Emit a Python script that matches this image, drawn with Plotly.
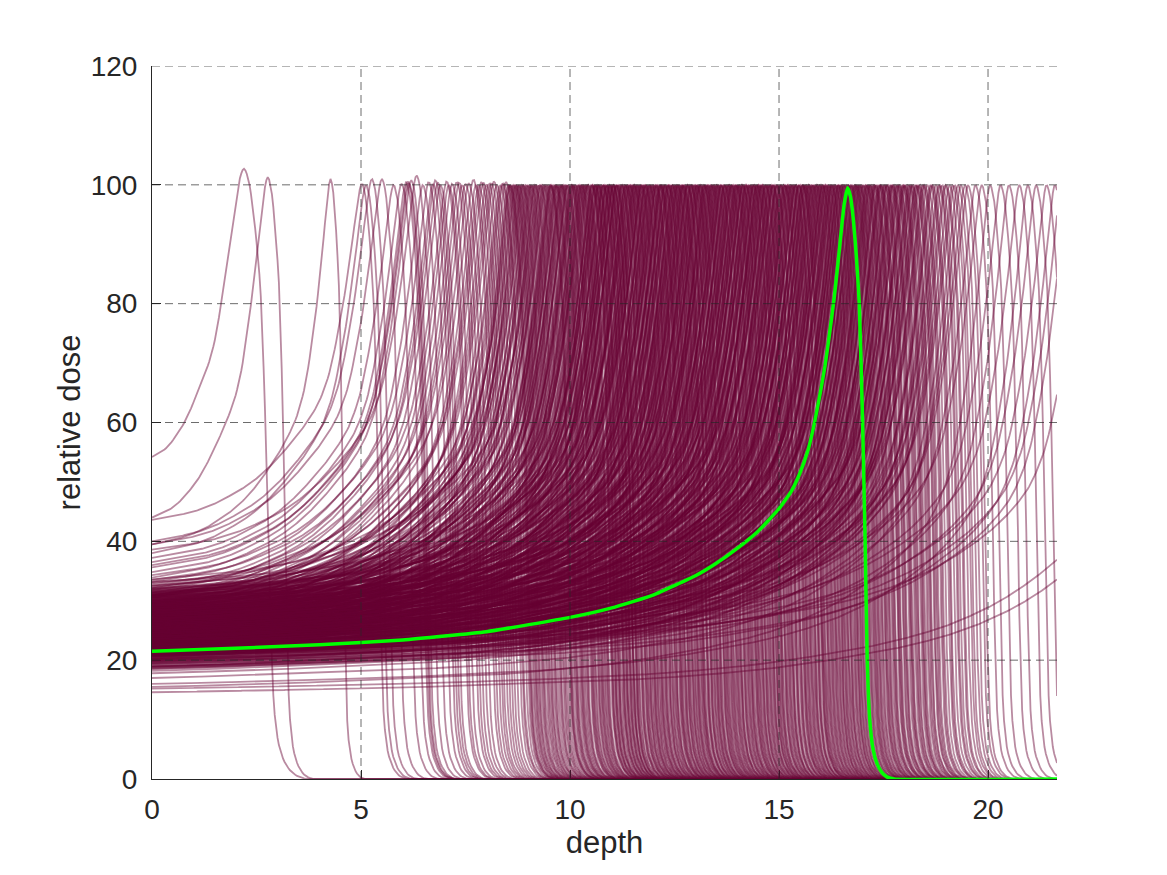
import numpy as np
import plotly.graph_objects as go

# ---------------- data ----------------
# highlighted (green) depth-dose curve
green_depth = [0, 2, 4, 6, 8, 10, 11, 12, 13, 13.5, 14, 14.5, 15.0, 15.3, 15.5, 15.7,
               15.85, 16.0, 16.1, 16.2, 16.32, 16.42, 16.5, 16.56, 16.64, 16.71, 16.78,
               16.85, 16.92, 17.0, 17.06, 17.11, 17.17, 17.25, 17.35, 17.45, 17.57, 17.75, 21.65]
green_dose = [21.5, 22.0, 22.6, 23.4, 24.8, 27.2, 28.8, 31.0, 34.2, 36.3, 38.8, 41.7, 45.5,
              48.5, 51.5, 55.5, 60.0, 65.5, 69.5, 74.5, 81.0, 87.5, 93.0, 96.8, 99.5, 98.0,
              94.0, 88.0, 80.0, 60.0, 40.0, 20.0, 10.0, 5.0, 2.5, 1.2, 0.4, 0.0, 0.0]

# sparse, short-range curves (peak depth, entrance dose, peak dose, peak width factor)
spike_range = [2.20, 2.77, 4.27, 5.02, 5.12, 5.26, 5.50, 5.78, 5.97, 6.08, 6.12, 6.15, 6.20,
               6.33, 6.48, 6.62, 6.72, 6.78, 6.84, 6.90, 7.05, 7.18, 7.29, 7.42, 7.58, 7.69,
               7.82, 7.93, 8.06, 8.18, 8.33, 8.41, 8.47,
               7.10, 7.35, 7.50, 7.75, 7.88, 8.00, 8.12, 8.25, 8.38]
spike_entrance = [54.2, 44.0, 39.5, 43.6, 38.0, 40.0, 39.5, 37.2, 36.5, 35.6, 34.8, 36.0, 33.9,
                  38.6, 33.2, 34.3, 32.5, 31.8, 33.5, 30.9, 32.2, 29.5, 31.4, 30.5, 29.8, 32.8,
                  28.9, 31.0, 27.8, 30.1, 28.5, 27.2, 29.3,
                  30.6, 29.0, 32.1, 28.2, 30.8, 26.9, 29.5, 27.6, 31.3]
spike_peak = [102.7, 101.3, 101.0, 100.2, 100.0, 101.0, 101.0, 100.0, 100.2, 100.4, 100.6,
              100.3, 100.8, 101.6, 100.0, 100.5, 100.2, 100.8, 100.4, 100.0, 100.6, 100.2,
              100.5, 100.0, 100.3, 100.9, 100.0, 100.4, 100.2, 100.6, 100.0, 100.3, 100.5,
              100.0, 100.4, 100.2, 100.0, 100.5, 100.1, 100.3, 100.0, 100.2]
spike_width = [1.4, 1.0, 0.75, 1.0, 1.0, 1.0, 1.0, 1.0, 1.0, 1.0, 1.0, 1.0, 1.0, 1.0, 1.0,
               1.0, 1.0, 1.0, 1.0, 1.0, 1.0, 1.0, 1.0, 1.0, 1.0, 1.0, 1.0, 1.0, 1.0, 1.0,
               1.0, 1.0, 1.0, 1.0, 1.0, 1.0, 1.0, 1.0, 1.0, 1.0, 1.0, 1.0]

# bulk of curves (peak depth, entrance dose); peak dose 100
bulk_range = [
    8.52, 8.55, 8.59, 8.63, 8.66, 8.71, 8.74, 8.79, 8.83, 8.88, 8.91, 8.95, 9.01, 9.04, 9.09,
    9.13, 9.18, 9.22, 9.26, 9.31, 9.35, 9.38, 9.44, 9.48, 9.52, 9.57, 9.61, 9.66, 9.70, 9.74,
    9.79, 9.83, 9.86, 9.92, 9.96, 10.01, 10.05, 10.09, 10.14, 10.18, 10.22, 10.27, 10.31,
    10.36, 10.41, 10.45,
    10.50, 10.53, 10.55, 10.58, 10.61, 10.63, 10.66, 10.69, 10.71, 10.74, 10.77, 10.80, 10.82,
    10.85, 10.88, 10.90, 10.93, 10.96, 10.98,
    11.01, 11.04, 11.05, 11.10, 11.12, 11.13, 11.18, 11.22, 11.23, 11.27, 11.31, 11.32, 11.36,
    11.38, 11.43, 11.44, 11.47, 11.52, 11.53, 11.55, 11.60, 11.61, 11.66, 11.69, 11.70, 11.74,
    11.77, 11.81, 11.82, 11.85, 11.90, 11.91, 11.94, 11.98,
    12.01, 12.03, 12.07, 12.08, 12.12, 12.16, 12.17, 12.21, 12.24, 12.26, 12.29, 12.33, 12.34,
    12.38, 12.40, 12.45, 12.46, 12.49, 12.53, 12.56, 12.57, 12.61, 12.64, 12.66, 12.70, 12.71,
    12.75, 12.79, 12.80, 12.83, 12.87, 12.89, 12.92, 12.95, 12.97,
    13.02, 13.03, 13.07, 13.10, 13.11, 13.15, 13.19, 13.20, 13.24, 13.26, 13.30, 13.32, 13.35,
    13.39, 13.41, 13.43, 13.48, 13.50, 13.52, 13.56, 13.59, 13.61, 13.64, 13.68, 13.69, 13.73,
    13.76, 13.78, 13.82, 13.85, 13.86, 13.90, 13.93, 13.96, 13.99,
    14.01, 14.05, 14.07, 14.10, 14.14, 14.15, 14.19, 14.22, 14.24, 14.27, 14.31, 14.33, 14.36,
    14.40, 14.41, 14.45, 14.48, 14.50, 14.54, 14.57, 14.58, 14.62, 14.66, 14.67, 14.71, 14.74,
    14.76, 14.80, 14.83, 14.85, 14.88, 14.92, 14.94, 14.97,
    15.01, 15.03, 15.06, 15.10, 15.12, 15.15, 15.18, 15.20, 15.24, 15.27, 15.29, 15.33, 15.36,
    15.38, 15.41, 15.45, 15.47, 15.50, 15.54, 15.56, 15.59, 15.63, 15.65, 15.68, 15.72, 15.74,
    15.77, 15.81, 15.83, 15.86, 15.90, 15.92, 15.95, 15.99,
    16.02, 16.05, 16.08, 16.12, 16.14, 16.17, 16.21, 16.24, 16.27, 16.30, 16.33, 16.37, 16.40,
    16.43, 16.46, 16.50, 16.53, 16.57, 16.60, 16.63, 16.67, 16.70, 16.74, 16.77, 16.80, 16.84,
    16.88, 16.91, 16.95, 16.98,
    17.03, 17.07, 17.11, 17.16, 17.20, 17.24, 17.29, 17.33, 17.38, 17.42, 17.46, 17.51, 17.56,
    17.60, 17.65, 17.70, 17.74, 17.79, 17.84, 17.89, 17.94, 17.99, 18.04, 18.09, 18.15, 18.20,
    18.26, 18.31, 18.37, 18.43, 18.49, 18.55, 18.62, 18.68, 18.75, 18.82, 18.90, 18.97,
    19.08, 19.20, 19.35, 19.52, 19.70, 19.85, 20.05, 20.30, 20.50, 20.75, 20.95, 21.15, 21.40,
    21.60,
]
bulk_entrance = [
    31.5, 28.0, 26.5, 30.2, 33.0, 27.4, 29.6, 25.8, 31.0, 28.6, 26.9, 32.4, 29.1, 24.9, 27.7,
    30.8, 26.2, 28.9, 33.6, 25.5, 29.9, 27.1, 31.7, 24.4, 28.3, 26.0, 30.4, 27.9, 25.2, 32.0,
    28.8, 26.6, 29.4, 24.0, 31.2, 27.5, 25.9, 30.0, 28.1, 23.6, 26.8, 29.7, 25.1, 31.9, 27.3,
    24.7,
    28.4, 26.1, 30.6, 23.9, 27.6, 25.4, 29.2, 32.6, 26.7, 24.3, 28.0, 30.9, 25.7, 27.2, 23.2,
    29.5, 26.3, 31.4, 24.8,
    27.9, 25.3, 29.8, 23.5, 26.9, 31.1, 24.6, 28.5, 26.0, 30.3, 22.8, 27.4, 25.0, 29.0, 33.2,
    24.1, 27.0, 26.4, 30.7, 23.3, 28.2, 25.6, 29.6, 22.6, 27.7, 31.8, 24.9, 26.5, 28.9, 23.8,
    30.1, 25.2, 27.3, 22.3,
    26.8, 29.3, 24.2, 27.5, 31.6, 23.1, 25.8, 28.7, 22.9, 26.1, 30.5, 24.5, 27.8, 25.5, 29.1,
    21.8, 26.6, 28.3, 23.7, 32.1, 25.1, 27.1, 24.0, 29.8, 22.4, 26.3, 28.0, 23.4, 30.8, 25.7,
    27.6, 22.1, 24.8, 29.5, 26.2,
    25.4, 28.6, 23.0, 26.9, 30.2, 24.3, 27.3, 21.6, 25.9, 29.0, 23.6, 26.4, 31.3, 22.7, 27.9,
    24.6, 25.2, 28.8, 22.2, 26.7, 30.0, 23.9, 27.2, 21.4, 25.6, 29.4, 24.1, 26.0, 22.8, 28.1,
    25.0, 31.0, 23.3, 27.4, 21.9,
    26.5, 24.4, 28.4, 22.5, 25.8, 30.4, 23.2, 27.0, 21.2, 24.9, 29.2, 22.9, 26.2, 25.3, 28.7,
    21.7, 24.0, 27.6, 23.5, 30.6, 22.0, 25.5, 26.8, 23.8, 28.9, 21.5, 24.7, 27.1, 22.6, 29.7,
    25.1, 23.0, 26.3, 20.9,
    24.2, 27.3, 22.1, 25.7, 29.1, 21.3, 23.6, 26.6, 20.8, 24.5, 28.2, 22.7, 25.2, 23.1, 27.8,
    21.0, 24.8, 26.1, 22.4, 29.9, 20.5, 23.9, 25.9, 22.0, 27.5, 21.6, 24.1, 26.9, 23.4, 28.6,
    20.7, 25.4, 22.8, 24.6,
    23.7, 26.4, 21.5, 24.9, 28.0, 20.6, 23.0, 25.6, 22.2, 27.2, 20.3, 24.3, 21.7, 26.0, 22.9,
    25.1, 20.1, 23.5, 27.7, 21.1, 24.7, 22.5, 26.7, 19.8, 23.3, 25.3, 21.9, 24.0, 20.9, 22.6,
    22.4, 25.0, 20.2, 23.6, 19.6, 26.2, 21.4, 24.4, 18.9, 22.7, 20.7, 25.8, 19.3, 23.1, 21.0,
    24.2, 18.5, 22.0, 20.4, 26.6, 19.0, 23.8, 21.8, 18.2, 24.8, 20.0, 22.3, 19.5, 23.4, 17.8,
    21.2, 25.4, 19.9, 22.9, 18.7, 21.6, 20.3, 24.1,
    21.0, 24.5, 17.0, 22.5, 20.2, 23.9, 15.5, 21.7, 19.4, 23.0, 16.0, 20.8, 22.1, 19.0,
]

# further curves filling the 8.5-10.5 and 17-19.5 depth bands
extra_range = [8.57, 8.69, 8.77, 8.86, 8.98, 9.07, 9.16, 9.29, 9.41, 9.55, 9.64, 9.77, 9.89,
               10.03, 10.12, 10.25, 10.34, 10.43,
               17.13, 17.27, 17.40, 17.53, 17.68, 17.82, 17.97, 18.12, 18.28, 18.46, 18.65,
               18.85, 19.00, 19.15, 19.28, 19.45]
extra_entrance = [27.0, 29.4, 25.6, 31.2, 26.3, 28.7, 24.8, 30.5, 27.8, 25.3, 29.7, 23.9, 28.4,
                  26.2, 30.9, 24.6, 27.4, 25.8,
                  21.9, 24.3, 19.7, 23.2, 20.6, 25.5, 18.8, 22.6, 20.9, 24.0, 19.2, 22.2,
                  20.1, 23.5, 18.6, 21.3]

# second layer of curves in the dense 9.5-18.5 band
dense_range = [
    9.53, 9.68, 9.81, 9.94, 10.07, 10.20, 10.29, 10.39, 10.52, 10.60, 10.68, 10.79, 10.87,
    10.95, 11.03, 11.09, 11.16, 11.25, 11.34, 11.41, 11.49, 11.57, 11.64, 11.72, 11.79, 11.88,
    11.96, 12.05, 12.14, 12.19, 12.28, 12.36, 12.43, 12.51, 12.59, 12.68, 12.73, 12.82, 12.90,
    12.99, 13.05, 13.13, 13.22, 13.28, 13.37, 13.45, 13.54, 13.62, 13.71, 13.80, 13.88, 13.97,
    14.03, 14.12, 14.20, 14.29, 14.38, 14.46, 14.52, 14.60, 14.69, 14.78, 14.86, 14.95, 15.05,
    15.14, 15.22, 15.31, 15.40, 15.48, 15.57, 15.61, 15.70, 15.79, 15.88, 15.97, 16.04, 16.10,
    16.19, 16.26, 16.35, 16.42, 16.48, 16.55, 16.65, 16.72, 16.82, 16.86, 16.93, 17.01, 17.09,
    17.18, 17.31, 17.44, 17.58, 17.72, 17.87, 18.01, 18.18, 18.34,
]
dense_entrance = [
    27.2, 24.5, 29.8, 26.0, 23.4, 28.9, 25.6, 31.0, 22.7, 27.5, 25.0, 29.3, 23.8, 26.7, 30.4,
    24.2, 28.1, 22.4, 26.3, 29.6, 23.5, 27.8, 25.3, 31.5, 22.1, 26.9, 24.7, 28.5, 23.0, 30.1,
    25.8, 27.3, 21.9, 24.9, 29.0, 26.4, 22.9, 28.2, 25.2, 30.7, 23.7, 27.0, 21.5, 26.1, 28.7,
    24.4, 22.6, 29.4, 25.5, 27.6, 23.2, 30.2, 24.0, 26.6, 21.3, 28.0, 25.1, 23.6, 29.9, 22.3,
    26.8, 24.6, 27.9, 21.0, 25.7, 23.1, 28.4, 22.0, 26.2, 24.3, 29.2, 20.8, 25.4, 23.9, 27.4,
    21.8, 24.8, 26.5, 22.5, 28.8, 20.4, 25.0, 23.3, 27.1, 21.4, 24.1, 26.0, 22.2, 20.6, 24.6,
    19.9, 23.0, 21.2, 25.3, 19.5, 22.8, 20.7, 24.0, 18.9, 22.1,
]

# curves whose peak lies beyond the visible depth range
tail_range = [21.77, 21.92, 22.33, 23.9, 24.4]
tail_entrance = [21.5, 19.8, 22.0, 15.2, 14.6]

x_ticks = [0, 5, 10, 15, 20]
y_ticks = [0, 20, 40, 60, 80, 100, 120]
x_max = 21.65
y_max = 120

# ---------------- build curves from the green template ----------------
tx = np.array(green_depth, dtype=float)
ty = np.array(green_dose, dtype=float) / max(green_dose)
i_peak = int(np.argmax(ty))
t_peak = tx[i_peak]
t_ent = ty[0]


def pchip(xk, yk, xq):
    """Monotone cubic (Fritsch-Carlson) evaluation of the template."""
    h = np.diff(xk)
    delta = np.diff(yk) / h
    m = np.zeros_like(yk)
    w1 = 2 * h[1:] + h[:-1]
    w2 = h[1:] + 2 * h[:-1]
    same = delta[:-1] * delta[1:] > 0
    with np.errstate(divide="ignore", invalid="ignore"):
        hm = (w1 + w2) / (w1 / delta[:-1] + w2 / delta[1:])
    m[1:-1] = np.where(same, hm, 0.0)
    m[0] = delta[0]
    m[-1] = delta[-1]
    xq = np.clip(xq, xk[0], xk[-1])
    idx = np.clip(np.searchsorted(xk, xq) - 1, 0, len(xk) - 2)
    hh = h[idx]
    t = (xq - xk[idx]) / hh
    h00 = 2 * t**3 - 3 * t**2 + 1
    h10 = t**3 - 2 * t**2 + t
    h01 = -2 * t**3 + 3 * t**2
    h11 = t**3 - t**2
    return h00 * yk[idx] + h10 * hh * m[idx] + h01 * yk[idx + 1] + h11 * hh * m[idx + 1]


depth = np.linspace(0, x_max, 650)


def depth_dose(r, e, p=100.0, w=1.0):
    d = r - depth
    c = t_peak * w / r
    phi = np.where(d >= 0, (d / w) * np.power(c, np.clip(d, 0, None) / r), d / w)
    xt = t_peak - phi
    t = pchip(tx, ty, xt)
    rise = e + (p - e) * (t - t_ent) / (1 - t_ent)
    fall = p * np.clip(t, 0, None)
    return np.where(d >= 0, rise, fall)


curves = []
for r, e, p, w in zip(spike_range, spike_entrance, spike_peak, spike_width):
    curves.append(depth_dose(r, e, p, w))
for rs, es in ((bulk_range, bulk_entrance), (extra_range, extra_entrance),
               (dense_range, dense_entrance), (tail_range, tail_entrance)):
    for r, e in zip(rs, es):
        curves.append(depth_dose(r, e))

fig = go.Figure()
maroon = "rgba(102,0,51,0.46)"
for yv in curves:
    fig.add_trace(go.Scatter(x=depth, y=np.round(yv, 2), mode="lines",
                             line=dict(color=maroon, width=1.8),
                             hoverinfo="skip", showlegend=False))

fig.add_trace(go.Scatter(x=green_depth, y=green_dose, mode="lines",
                         line=dict(color="#00ff00", width=3.5, shape="spline", smoothing=0.4),
                         hoverinfo="skip", showlegend=False))

# dashed grid drawn above the curves (as in the reference)
grid = dict(color="rgba(38,38,38,0.68)", width=1, dash="8px,5px")
shapes = []
for yv in y_ticks[1:]:
    shapes.append(dict(type="line", xref="x", yref="y", x0=0, x1=x_max, y0=yv, y1=yv,
                       line=grid, layer="above"))
for xv in x_ticks[1:]:
    shapes.append(dict(type="line", xref="x", yref="y", x0=xv, x1=xv, y0=0, y1=y_max,
                       line=grid, layer="above"))

font_family = "Liberation Sans, Arial, Helvetica, sans-serif"
axis_common = dict(
    showgrid=False, zeroline=False, showline=True, linecolor="#262626", linewidth=1,
    ticks="inside", ticklen=9, tickwidth=1, tickcolor="#262626",
    tickfont=dict(family=font_family, size=28, color="#262626"),
    layer="below traces", mirror=False,
)

fig.update_layout(
    width=1167, height=875,
    margin=dict(l=144, r=118, t=58, b=104),
    paper_bgcolor="white", plot_bgcolor="white",
    shapes=shapes,
    hovermode=False,
    xaxis=dict(range=[0, x_max], tickvals=x_ticks, ticklabelstandoff=5,
               title=dict(text="depth", font=dict(family=font_family, size=31, color="#262626"),
                          standoff=6),
               **axis_common),
    yaxis=dict(range=[0, y_max], tickvals=y_ticks, ticklabelstandoff=8,
               title=dict(text="relative dose",
                          font=dict(family=font_family, size=31, color="#262626"),
                          standoff=0),
               **axis_common),
)

fig.write_html("out.html")
